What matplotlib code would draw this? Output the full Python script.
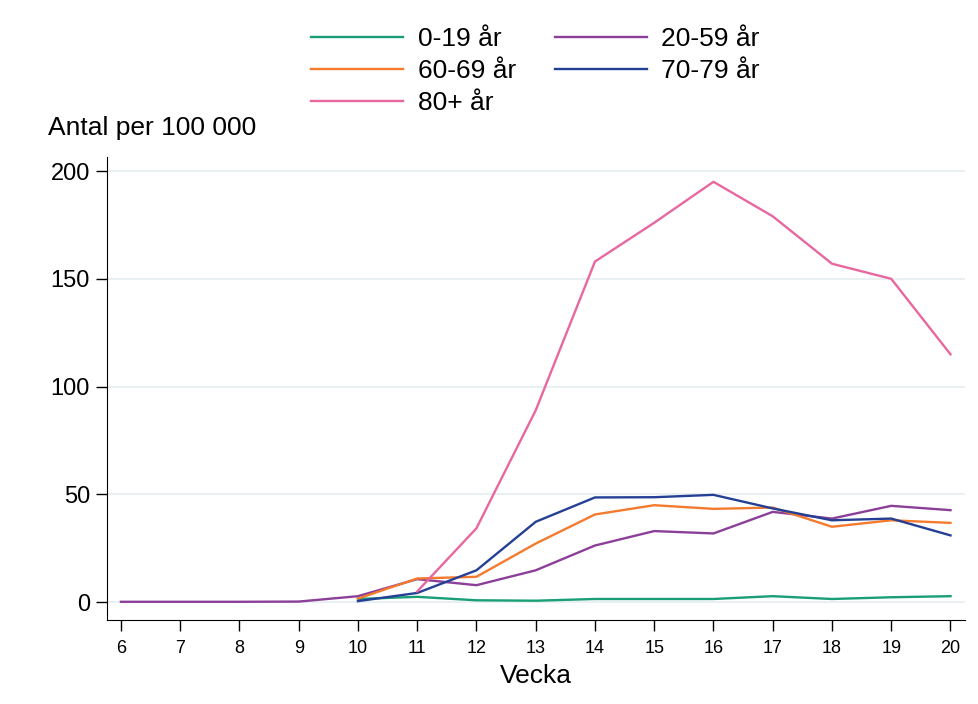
import matplotlib
matplotlib.use("Agg")
import matplotlib.pyplot as plt
import numpy as np

plt.rcParams['font.family'] = ['Liberation Sans', 'DejaVu Sans']

weeks = list(range(6, 21))
nan = np.nan

# antal per 100 000, per åldersgrupp
age_0_19 = [nan, nan, nan, nan, 1.5, 2.5, 0.9, 0.7, 1.5, 1.5, 1.5, 2.8, 1.5, 2.3, 2.8]
age_20_59 = [0.2, 0.2, 0.2, 0.3, 2.8, 10.7, 7.9, 14.8, 26.3, 33.0, 31.9, 41.9, 38.8, 44.7, 42.7]
age_60_69 = [nan, nan, nan, nan, 1.7, 11.0, 11.8, 27.2, 40.7, 45.0, 43.3, 43.9, 35.0, 38.0, 36.8]
age_70_79 = [nan, nan, nan, nan, 0.5, 4.3, 14.8, 37.3, 48.6, 48.7, 49.8, 43.5, 38.0, 38.8, 31.0]
age_80 = [nan, nan, nan, nan, nan, 5.0, 34.3, 89.0, 158.0, 176.0, 195.0, 179.0, 157.0, 150.0, 115.0]

labels = ['0-19 år', '20-59 år', '60-69 år', '70-79 år', '80+ år']
colors = ['#1a9e78', '#8b3f98', '#f47a2e', '#253f94', '#e8679f']
series = [age_0_19, age_20_59, age_60_69, age_70_79, age_80]

fig = plt.figure(figsize=(9.79, 7.04), dpi=100)
ax = fig.add_axes([0.109, 0.119, 0.877, 0.658])

lines = []
for vals, lab, col in zip(series, labels, colors):
    l, = ax.plot(weeks, vals, color=col, lw=1.7, label=lab)
    lines.append(l)

ax.set_xlim(5.76, 20.25)
ax.set_ylim(-8.35, 206.5)
ax.set_xticks(weeks)
ax.set_yticks([0, 50, 100, 150, 200])
ax.tick_params(axis='x', labelsize=13, direction='out', length=8, width=1, pad=6)
ax.tick_params(axis='y', labelsize=17, direction='out', length=8, width=1, pad=4)
ax.grid(axis='y', color='#e8f0f2', lw=1.5)
ax.set_axisbelow(True)
for s in ['top', 'right']:
    ax.spines[s].set_visible(False)
ax.set_xlabel('Vecka', fontsize=19, labelpad=5)
fig.text(0.049, 0.818, 'Antal per 100 000', fontsize=19, ha='left', va='center')

order = [0, 2, 4, 1, 3]
fig.legend([lines[i] for i in order], [labels[i] for i in order],
           loc='upper center', bbox_to_anchor=(0.547, 0.995), ncol=2,
           frameon=False, fontsize=19, handlelength=3.5, handletextpad=0.55,
           columnspacing=1.45, labelspacing=0.3)

fig.savefig('out.png', dpi=100)
